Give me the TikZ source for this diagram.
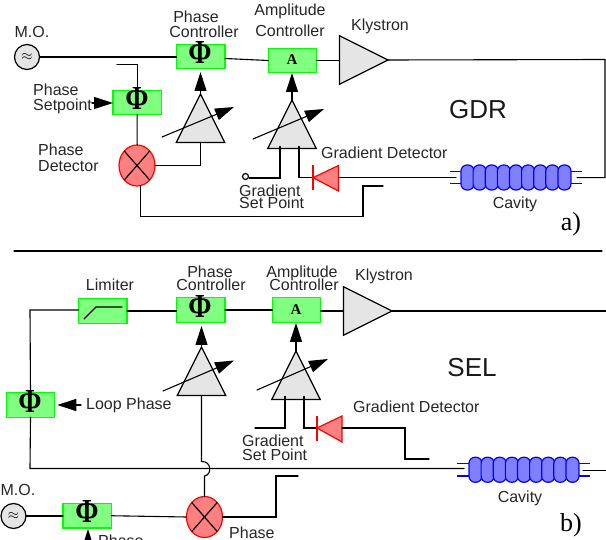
\documentclass[tikz,border=0pt]{standalone}
\usepackage{fontspec}
\setmainfont{Liberation Sans}
\newfontfamily\serifsym{Liberation Serif}
\usetikzlibrary{shapes.geometric,arrows.meta}
\newcommand{\phiglyph}{\scalebox{1}[1.2]{Φ}}
\tikzset{
  wire/.style={line width=1.1pt,line cap=round},
  lbl/.style={font=\fontsize{16}{18}\selectfont,inner sep=0pt,text=black!85},
  biglbl/.style={font=\fontsize{26}{28}\selectfont,inner sep=0pt,text=black!90},
  partlbl/.style={font=\serifsym\fontsize{26}{28}\selectfont,inner sep=0pt},
  ctrlbox/.style={draw=green,fill=green!50,line width=1.2pt,minimum width=48.5pt,minimum height=24.5pt,inner sep=0pt,outer sep=0pt},
  phisym/.style={font=\serifsym\bfseries\fontsize{28}{28}\selectfont,inner sep=0pt},
  asym/.style={font=\serifsym\bfseries\fontsize{15}{15}\selectfont,inner sep=0pt},
  ampl/.style={draw,fill=black!10,line width=1.2pt,isosceles triangle,isosceles triangle apex angle=53.13,isosceles triangle stretches,minimum width=48.5pt,minimum height=48.5pt,inner sep=0pt,outer sep=0pt},
  oscil/.style={draw,fill=black!10,line width=1.2pt,circle,minimum size=25pt,inner sep=0pt,outer sep=0pt},
  mixer/.style={draw=red,fill=red!50,line width=1.2pt,ellipse,minimum width=36pt,minimum height=41pt,inner sep=0pt,outer sep=0pt},
  bighead/.style={wire,-{Triangle[length=19pt,width=12pt]}},
  diodetri/.style={draw=red,fill=red!50,line width=1.2pt,line join=miter},
  cavcell/.style={draw=blue,fill=blue!50,line width=1.2pt,rounded corners=6pt,minimum width=13pt,minimum height=25pt,inner sep=0pt,outer sep=0pt},
  pipe/.style={draw=blue,line width=1.2pt},
}
\begin{document}
\begin{tikzpicture}[x=1pt,y=-1pt]
\clip (0,0) rectangle (606,540);

% GDR loop
\node[oscil] (moA) at (27,57) {\fontsize{15}{15}\selectfont$\approx$};
\node[lbl] (moAtxt) at (32,32) {M.O.};
\node[ctrlbox] (pcA) at (200.75,56.5) {};
\node[phisym] (pcAsym) at (200,52.5) {\phiglyph};
\node[lbl] (pcAa) at (196,17) {Phase};
\node[lbl] (pcAb) at (204,32) {Controller};
\node[ctrlbox] (acA) at (292.5,60.5) {};
\node[asym] (acAsym) at (292,60) {A};
\node[lbl] (acAa) at (290,11) {Amplitude};
\node[lbl] (acAb) at (290,31) {Controller};
\node[ctrlbox] (psA) at (137.25,102.5) {};
\node[phisym] (psAsym) at (137,98.5) {\phiglyph};
\node[lbl,anchor=west] (psAa) at (33,90) {Phase};
\node[lbl,anchor=west] (psAb) at (33,106) {Setpoint};
\node[mixer] (mixA) at (137,165.5) {};
\node[lbl,anchor=west] (mixAa) at (38,150) {Phase};
\node[lbl,anchor=west] (mixAb) at (38,166) {Detector};
\node[ampl,shape border rotate=90,anchor=apex] (ampPA) at (200.5,94) {};
\node[ampl,shape border rotate=90,anchor=apex] (ampAA) at (292,100) {};
\node[ampl,anchor=west] (klyA) at (339.5,60) {};
\node[lbl] (klyAtxt) at (380,26) {Klystron};
\node[biglbl] (gdr) at (478,110) {GDR};
\node[lbl,anchor=west] (gdAtxt) at (321,153) {Gradient Detector};
\node[lbl] (cavAtxt) at (515,204) {Cavity};
\node[partlbl] (partA) at (571,224) {a)};
\node[lbl,anchor=west] (gspAa) at (239,191) {Gradient};
\node[lbl,anchor=west] (gspAb) at (239,203) {Set Point};

\draw[wire] (moA) -- (pcA.west |- moA);
\coordinate (tapA) at (117,64.5);
\draw[wire] (tapA) -| (psA.north);
\draw[wire] (psA) -- (mixA);
\draw[wire] (pcA.east) ++(0,2) -- (acA.west);
\draw[wire] (acA.east) -- (acA.east -| klyA.west);
\coordinate (spA) at (92,103);
\draw[bighead] (spA) -- (psA.west |- spA);
\draw[bighead] (ampPA.apex) -- ++(0,-22);
\draw[bighead] (ampAA.apex) -- ++(0,-27);
\coordinate (gaPA1) at (162,137); \coordinate (gaPA2) at (234,107);
\draw[bighead] (gaPA1) -- (gaPA2);
\coordinate (gaAA1) at (253,139); \coordinate (gaAA2) at (324,109);
\draw[bighead] (gaAA1) -- (gaAA2);
\draw[wire] (mixA.east) -| (ampPA.lower side);
\draw[line width=1.2pt] (mixA.north west) -- (mixA.south east) (mixA.north east) -- (mixA.south west);
\coordinate (inAA1) at (280,146.5); \coordinate (inAA2) at (299,146.5);
\node[draw,line width=1.2pt,fill=white,circle,minimum size=6pt,inner sep=0pt] (gspA) at (245.5,176.5) {};
\draw[wire] (gspA.east |- 0,178) -| (inAA1);
\coordinate (dioA) at (313,177.7);
\draw[wire] (inAA2) |- (dioA);
\draw[diodetri] (dioA) -- (338.5,165.5) -- (338.5,191) -- cycle;
\draw[draw=red,line width=1.2pt] (313,165) -- (313,190.5);
\coordinate (cavAl) at (456,177.7); \coordinate (cavAr) at (577,177.7);
\coordinate (dioAb) at (338.5,177.7);
\draw[wire] (dioAb) -- (cavAl);
\coordinate (cnrA) at (605,59.5);
\draw[wire] (klyA.apex) -- (cnrA) -- (cnrA |- cavAr) -- (cavAr);
\coordinate (fbAb) at (363,216.5); \coordinate (fbAc) at (363,186); \coordinate (fbAd) at (383,186);
\draw[wire] (mixA.-80) |- (fbAb) -- (fbAc) -- (fbAd);
\draw[pipe] (449.5,171.7) -- (462,171.7) (449.5,183.5) -- (462,183.5) (570,171.7) -- (582,171.7) (570,183.5) -- (582,183.5);
\foreach \i in {0,...,8}
  \node[cavcell] (cavA\i) at (467.5+12.12*\i,177.5) {};

% divider
\coordinate (divl) at (14,251); \coordinate (divr) at (602,251);
\draw[wire] (divl) -- (divr);

% SEL loop
\node[ctrlbox] (limB) at (102.75,311) {};
\coordinate (limB1) at (84,319); \coordinate (limB2) at (96,307); \coordinate (limB3) at (122,307);
\draw[wire] (limB1) -- (limB2) -- (limB3);
\node[lbl] (limBtxt) at (110,285) {Limiter};
\node[ctrlbox] (pcB) at (200.75,310) {};
\node[phisym] (pcBsym) at (200,306.5) {\phiglyph};
\node[lbl] (pcBa) at (210,272) {Phase};
\node[lbl] (pcBb) at (211,285) {Controller};
\node[ctrlbox] (acB) at (296.5,310) {};
\node[asym] (acBsym) at (296,310) {A};
\node[lbl] (acBa) at (302,273) {Amplitude};
\node[lbl] (acBb) at (304,285) {Controller};
\node[ctrlbox] (lpB) at (30.5,405) {};
\node[phisym] (lpBsym) at (30,401.5) {\phiglyph};
\node[lbl,anchor=west] (lpBtxt) at (86,405) {Loop Phase};
\node[ampl,shape border rotate=90,anchor=apex] (ampPB) at (201.5,347) {};
\node[ampl,shape border rotate=90,anchor=apex] (ampAB) at (296,351) {};
\node[ampl,anchor=west] (klyB) at (343.5,311) {};
\node[lbl] (klyBtxt) at (384,276) {Klystron};
\node[biglbl] (sel) at (472,368) {SEL};
\node[lbl,anchor=west] (gdBtxt) at (353,407) {Gradient Detector};
\node[lbl] (cavBtxt) at (520,498) {Cavity};
\node[partlbl] (partB) at (571,525) {b)};
\node[lbl,anchor=west] (gspBa) at (242,441) {Gradient};
\node[lbl,anchor=west] (gspBb) at (242,455) {Set Point};
\node[oscil] (moB) at (13.5,516) {\fontsize{15}{15}\selectfont$\approx$};
\node[lbl] (moBtxt) at (18,490) {M.O.};
\node[ctrlbox] (psB) at (87.25,515.75) {};
\node[phisym] (psBsym) at (87,511.5) {\phiglyph};
\node[lbl,anchor=west] (psBtxt) at (98,541) {Phase};
\node[mixer] (mixB) at (204.5,517) {};
\node[lbl,anchor=west] (mixBtxt) at (229,533) {Phase};

\coordinate (lpBtop) at (30,310);
\draw[wire] (lpB.north) -- (lpBtop) -- (limB.west |- lpBtop);
\draw[wire] (limB.east) -- (pcB.west |- limB.east);
\draw[wire] (pcB.east) -- (acB.west);
\draw[wire] (acB.east |- klyB.west) -- (klyB.west);
\coordinate (rfB) at (606,311);
\draw[wire] (klyB.apex) -- (rfB);
\coordinate (lpBa) at (81,405);
\draw[bighead,shorten >=2.5pt] (lpBa) -- (lpB.east);
\draw[bighead] (ampPB.apex) -- ++(0,-21);
\draw[bighead] (ampAB.apex) -- ++(0,-28);
\coordinate (gaPB1) at (163,391); \coordinate (gaPB2) at (234,360.5);
\draw[bighead] (gaPB1) -- (gaPB2);
\coordinate (gaAB1) at (257,390); \coordinate (gaAB2) at (328,359);
\draw[bighead] (gaAB1) -- (gaAB2);
\coordinate (botB) at (30,468.5); \coordinate (cavBl) at (464,468.5); \coordinate (cavBr) at (583,470.5);
\draw[wire] (lpB.south) -- (botB) -- (cavBl);
\draw[wire] (cavBr) -- (606,470.5);
\coordinate (hopB1) at (201.5,461.5); \coordinate (hopB2) at (204.5,476);
\draw[wire] (ampPB.lower side) -- (hopB1) .. controls (212,461) and (212,475) .. (hopB2) -- (mixB.north);
\draw[wire] (moB) -- (psB.west |- moB);
\draw[wire] (psB.east) -- (mixB.west);
\draw[line width=1.2pt] (mixB.north west) -- (mixB.south east) (mixB.north east) -- (mixB.south west);
\coordinate (fbBb) at (276,476); \coordinate (fbBc) at (298,476);
\draw[wire] (mixB.east) -| (fbBb) -- (fbBc);
\coordinate (spB) at (88,548);
\draw[bighead] (spB) -- (88,529);
\coordinate (inAB1) at (285,396.5); \coordinate (inAB2) at (304,396.5); \coordinate (gspB) at (255,428);
\draw[wire] (inAB1) |- (gspB);
\coordinate (dioB) at (317,428); \coordinate (dioBb) at (342,428);
\draw[wire] (inAB2) |- (dioB);
\draw[diodetri] (dioB) -- (342,416) -- (342,442) -- cycle;
\draw[draw=red,line width=1.2pt] (317,416) -- (317,441);
\coordinate (fbBd) at (405,428); \coordinate (fbBe) at (405,459); \coordinate (fbBf) at (429,459);
\draw[wire] (dioBb) -- (fbBd) -- (fbBe) -- (fbBf);
\draw[pipe] (457,463.5) -- (470,463.5) (457,476) -- (470,476) (577,463.5) -- (590,463.5) (577,476) -- (590,476);
\foreach \i in {0,...,8}
  \node[cavcell] (cavB\i) at (475.5+12.12*\i,469.75) {};
\end{tikzpicture}
\end{document}
